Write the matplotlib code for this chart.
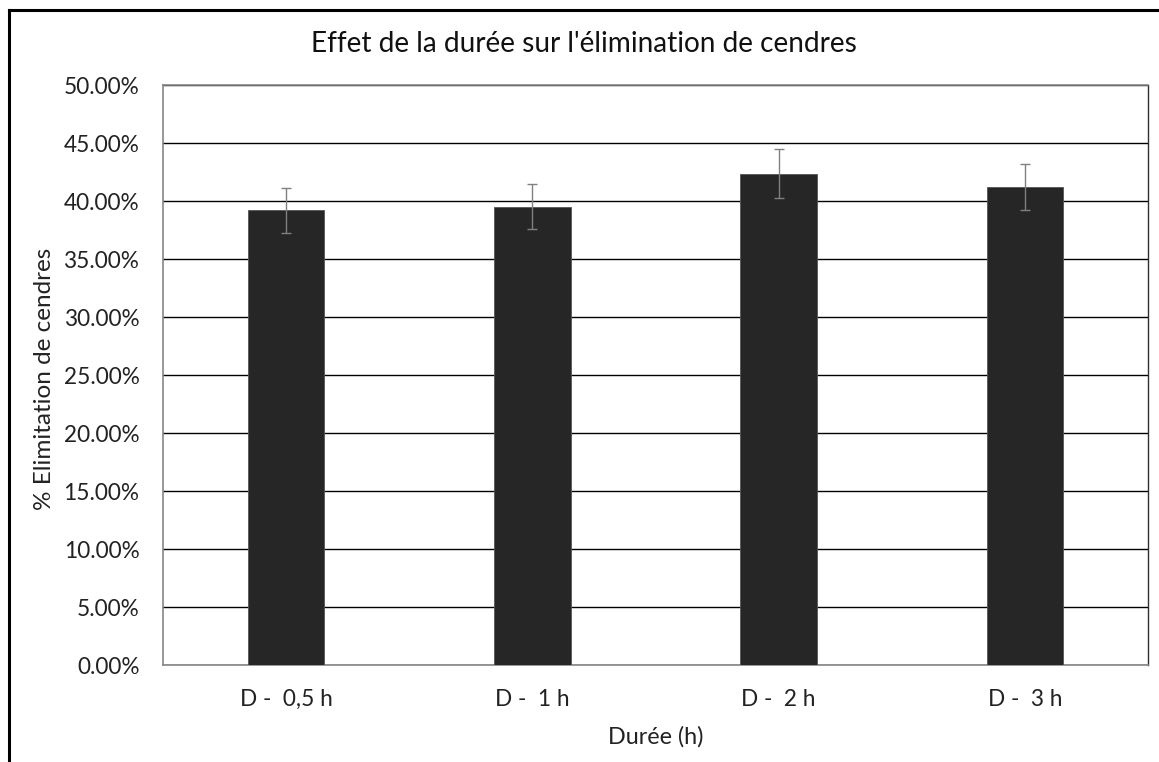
import numpy as np
import matplotlib.pyplot as plt
from matplotlib.lines import Line2D
from matplotlib.ticker import FuncFormatter

categories = ["D -  0,5 h", "D -  1 h", "D -  2 h", "D -  3 h"]
elimination = [39.2, 39.5, 42.35, 41.2]   # % cendres eliminees
erreur = [1.95, 1.95, 2.1, 2.0]
yticks = np.arange(0, 50.01, 5)

plt.rcParams['font.family'] = ['Lato', 'DejaVu Sans']


def main():
	fig = plt.figure(figsize=(11.59, 7.62), dpi=100)
	ax = fig.add_axes([163/1159, 1-665/762, (1148-163)/1159, (665-85)/762])
	x = np.arange(len(categories))
	ax.bar(x, elimination, width=0.31, color="#262626", edgecolor="#555555", linewidth=0.6, zorder=3)
	ax.errorbar(x, elimination, yerr=erreur, fmt="none", ecolor="#808080", elinewidth=1.0,
		capsize=3.5, capthick=1.0, zorder=4)
	ax.set_xlim(-0.5, len(categories)-0.5)
	ax.set_ylim(0, 50)
	ax.set_yticks(yticks)
	ax.yaxis.set_major_formatter(FuncFormatter(lambda v, p: f"{v:.2f}%"))
	ax.set_xticks(x)
	ax.set_xticklabels(categories)
	ax.tick_params(axis="both", length=0, labelsize=16.3, colors="#222222")
	ax.tick_params(axis="y", pad=17)
	ax.tick_params(axis="x", pad=17)
	ax.grid(axis="y", color="black", linewidth=1.0, zorder=0)
	ax.set_axisbelow(True)
	for s in ["left", "bottom", "top"]:
		ax.spines[s].set_color("#868686")
		ax.spines[s].set_linewidth(1.2)
	ax.spines["right"].set_color("#303030")
	ax.spines["right"].set_linewidth(1.0)

	fig.text(584/1159, 1-44/762, "Effet de la durée sur l'élimination de cendres",
		ha="center", va="center", fontsize=20.2, color="#111111")
	fig.text(45/1159, 1-379/762, "% Elimitation de cendres", rotation=90,
		ha="center", va="center", fontsize=17.5, color="#222222")
	fig.text(656/1159, 1-737/762, "Durée (h)", ha="center", va="center",
		fontsize=16.8, color="#222222")

	# outer chart frame (cut at right and bottom)
	fig.add_artist(Line2D([9/1159, 9/1159], [0, 1-10/762], transform=fig.transFigure,
		color="black", linewidth=2.2))
	fig.add_artist(Line2D([9/1159, 1], [1-10/762, 1-10/762], transform=fig.transFigure,
		color="black", linewidth=2.2))

	fig.savefig("out.png", dpi=100)
	plt.close()


if __name__ == "__main__":
	main()
